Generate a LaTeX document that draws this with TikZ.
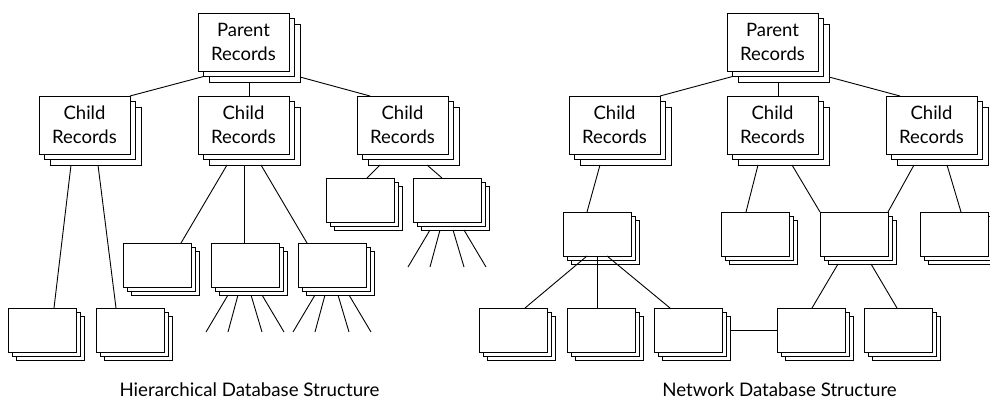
\documentclass[tikz,border=0pt]{standalone}
\usepackage{fontspec}
\setmainfont{Lato}
\usetikzlibrary{calc}
\tikzset{
  rec/.style={draw=black, fill=white, line width=1pt, inner sep=0pt, outer sep=0pt, anchor=north west},
  bigrec/.style={rec, minimum width=91pt, minimum height=58pt},
  smallrec/.style={rec, minimum width=68pt, minimum height=44pt},
  link/.style={line width=0.9pt},
  recfont/.style={font=\fontsize{18.5}{23.5}\selectfont, align=center},
  caption/.style={font=\fontsize{18.7}{22}\selectfont, anchor=base, inner sep=0pt},
}
% a stack of three record cards, front card at (x,y)
\newcommand\bigstack[4]{%
  \node[bigrec] (#1-2) at (#2+11,#3+11) {};
  \node[bigrec] (#1-1) at (#2+5.5,#3+5.5) {};
  \node[bigrec,recfont] (#1) at (#2,#3) {#4};}
\newcommand\smallstack[3]{%
  \node[smallrec] (#1-2) at (#2+8,#3+8) {};
  \node[smallrec] (#1-1) at (#2+4,#3+4) {};
  \node[smallrec] (#1) at (#2,#3) {};}
% four short lines fanning out below a stack
\newcommand\fan[1]{%
  \coordinate (#1-f1) at ($(#1-2.south west)+(-13,37)$);
  \coordinate (#1-f2) at ($(#1-2.south west)+(9,37)$);
  \coordinate (#1-f3) at ($(#1-2.south west)+(43,37)$);
  \coordinate (#1-f4) at ($(#1-2.south west)+(65,37)$);
  \draw[link] ($(#1-2.south west)+(9,0)$) -- (#1-f1);
  \draw[link] ($(#1-2.south west)+(19,0)$) -- (#1-f2);
  \draw[link] ($(#1-2.south west)+(32,0)$) -- (#1-f3);
  \draw[link] ($(#1-2.south west)+(43,0)$) -- (#1-f4);}
\begin{document}
\begin{tikzpicture}[x=1pt,y=-1pt]
\useasboundingbox (0,0) rectangle (990,402);

% ---------- hierarchical structure ----------
\bigstack{P}{198}{13}{Parent\\Records}
\bigstack{C1}{39}{96}{Child\\Records}
\bigstack{C2}{198}{96}{Child\\Records}
\bigstack{C3}{357}{96}{Child\\Records}
\smallstack{L1}{8}{308}
\smallstack{L2}{96}{308}
\smallstack{M1}{123}{243}
\smallstack{M2}{211}{243}
\smallstack{M3}{298}{243}
\smallstack{R1}{326}{178}
\smallstack{R2}{413}{178}

\draw[link] (P-1.south west) -- (C1.north east);
\draw[link] (P-1.south |- P-2.south) -- (P-1.south |- C2.north);
\draw[link] ($(P-2.south east)+(0,-5)$) -- ($(C3.north west)+(13,0)$);
\draw[link] ($(C1-2.south west)+(21,0)$) -- ($(L1.north west)+(46,0)$);
\draw[link] ($(C1-2.south west)+(48,0)$) -- ($(L2.north west)+(20,0)$);
\draw[link] ($(C2-2.south west)+(18,0)$) -- ($(M1.north west)+(58,0)$);
\draw[link] ($(C2-2.south west)+(35,0)$) -- ($(M2.north west)+(33,0)$);
\draw[link] ($(C2-2.south west)+(52,0)$) -- ($(M3.north west)+(9,0)$);
\draw[link] ($(C3-2.south west)+(12,0)$) -- ($(R1.north west)+(41,0)$);
\draw[link] ($(C3-2.south west)+(59,0)$) -- ($(R2.north west)+(29,0)$);
\fan{M2}
\fan{M3}
\fan{R2}

\node[caption] (t1) at (249.5,396) {Hierarchical Database Structure};

% ---------- network structure ----------
\bigstack{NP}{727}{13}{Parent\\Records}
\bigstack{NC1}{569}{96}{Child\\Records}
\bigstack{NC2}{727}{96}{Child\\Records}
\bigstack{NC3}{886}{96}{Child\\Records}
\smallstack{NA}{563}{212}
\smallstack{NB}{721}{212}
\smallstack{NC}{820}{212}
\smallstack{ND}{920}{212}
\smallstack{NE}{479}{308}
\smallstack{NF}{567}{308}
\smallstack{NG}{654}{308}
\smallstack{NH}{777}{308}
\smallstack{NI}{864}{308}

\draw[link] (NP-1.south west) -- (NC1.north east);
\draw[link] (NP-1.south |- NP-2.south) -- (NP-1.south |- NC2.north);
\draw[link] ($(NP-2.south east)+(0,-5)$) -- ($(NC3.north west)+(14,0)$);
\draw[link] ($(NC1-2.south west)+(20,0)$) -- ($(NA.north west)+(24,0)$);
\draw[link] ($(NC2-2.south west)+(20,0)$) -- ($(NB.north west)+(25,0)$);
\draw[link] ($(NC2-2.south west)+(54,0)$) -- (NC.north west);
\draw[link] ($(NC3-2.south west)+(17,0)$) -- (NC.north east);
\draw[link] ($(NC3-2.south west)+(50,0)$) -- ($(ND.north west)+(41,0)$);
\draw[link] ($(NA.south west)+(24,0)$) -- ($(NE.north west)+(46,0)$);
\draw[link] ($(NA.south west)+(34,0)$) -- ($(NF.north west)+(30,0)$);
\draw[link] ($(NA.south west)+(44,0)$) -- ($(NG.north west)+(16,0)$);
\draw[link] (NG.east -| NG-2.east) -- (NH.west);
\draw[link] ($(NC-2.south west)+(10,0)$) -- ($(NH.north west)+(35,0)$);
\draw[link] ($(NC-2.south west)+(43,0)$) -- ($(NI.north west)+(33,0)$);

\node[caption] (t2) at (779.5,396) {Network Database Structure};
\end{tikzpicture}
\end{document}
